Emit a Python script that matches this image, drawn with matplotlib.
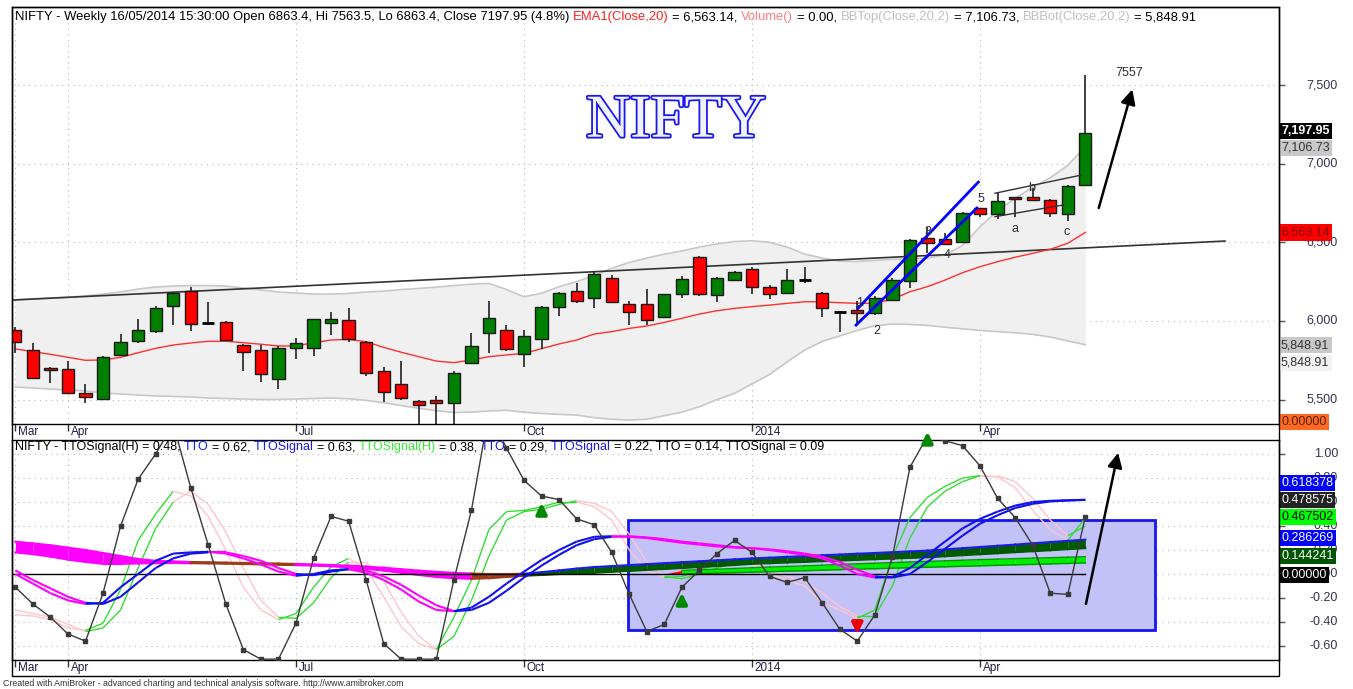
import numpy as np
import matplotlib
matplotlib.use('Agg')
import matplotlib.pyplot as plt
import matplotlib.patheffects as pe
from matplotlib.patches import Rectangle
from matplotlib.collections import LineCollection

plt.rcParams['font.family'] = ['Liberation Sans', 'DejaVu Sans']

# ---- data (weekly bars, 15/03/2013 .. 16/05/2014) ----
opens = [5941, 5813, 5699, 5693, 5544, 5506, 5784, 5871, 5936, 6095,
         6192, 5987, 5993, 5845, 5813, 5633, 5826, 5826, 5985, 6006,
         5866, 5680, 5599, 5491, 5498, 5477, 5731, 5925, 5943, 5790,
         5885, 6087, 6192, 6144, 6273, 6108, 6108, 6027, 6169, 6409,
         6163, 6260, 6328, 6214, 6180, 6258, 6180, 6060, 6070, 6053,
         6133, 6256, 6525, 6521, 6500, 6716, 6680, 6786, 6786, 6769,
         6678, 6863.4]
highs = [5960, 5858, 5706, 5747, 5599, 5779, 5917, 6011, 6095, 6187,
         6218, 6122, 6002, 5854, 5847, 5841, 5894, 6015, 6057, 6080,
         5875, 5707, 5747, 5495, 5523, 5682, 5922, 6129, 5974, 5943,
         6095, 6187, 6243, 6320, 6292, 6129, 6201, 6172, 6288, 6415,
         6280, 6315, 6341, 6229, 6328, 6341, 6185, 6062, 6127, 6159,
         6271, 6521, 6599, 6561, 6690, 6720, 6812, 6790, 6843, 6775,
         6863, 7563.5]
lows = [5794, 5629, 5604, 5536, 5477, 5500, 5780, 5862, 5922, 5974,
        5938, 5974, 5873, 5684, 5614, 5569, 5756, 5777, 5911, 5868,
        5650, 5487, 5498, 5250, 5280, 5300, 5725, 5798, 5811, 5705,
        5824, 6032, 6112, 6080, 6116, 5972, 5972, 6022, 6146, 6161,
        6122, 6255, 6171, 6138, 6175, 6239, 6023, 5932, 5974, 6038,
        6125, 6211, 6434, 6480, 6495, 6659, 6646, 6663, 6765, 6659,
        6637, 6863.4]
closes = [5866, 5635, 5687, 5544, 5519, 5773, 5868, 5941, 6080, 6180,
          5981, 5985, 5879, 5801, 5665, 5826, 5858, 6012, 6012, 5885,
          5671, 5550, 5512, 5464, 5477, 5667, 5841, 6021, 5820, 5906,
          6087, 6176, 6127, 6297, 6122, 6057, 6006, 6169, 6267, 6169,
          6275, 6309, 6214, 6169, 6260, 6262, 6080, 6058, 6049, 6148,
          6260, 6515, 6494, 6487, 6684, 6680, 6763, 6773, 6769, 6684,
          6858, 7197.95]
ema20 = [5822, 5805, 5788, 5769, 5750, 5752, 5769, 5798, 5826, 5847,
         5860, 5871, 5871, 5862, 5852, 5841, 5841, 5862, 5879, 5883,
         5868, 5832, 5801, 5773, 5745, 5735, 5752, 5773, 5784, 5794,
         5824, 5854, 5879, 5917, 5932, 5953, 5968, 5991, 6017, 6044,
         6065, 6080, 6091, 6101, 6112, 6122, 6122, 6116, 6112, 6112,
         6138, 6186, 6218, 6260, 6307, 6345, 6377, 6405, 6430, 6456,
         6494, 6563.14]
bb_top = [6133, 6140, 6146, 6152, 6159, 6171, 6184, 6203, 6216, 6222,
          6225, 6225, 6222, 6210, 6197, 6184, 6178, 6171, 6171, 6175,
          6184, 6190, 6200, 6207, 6215, 6225, 6234, 6239, 6200, 6154,
          6176, 6218, 6250, 6290, 6335, 6372, 6400, 6425, 6445, 6470,
          6490, 6505, 6510, 6500, 6470, 6425, 6400, 6380, 6378, 6385,
          6392, 6395, 6400, 6420, 6480, 6600, 6700, 6780, 6850, 6910,
          6990, 7106.73]
bb_bot = [5580, 5574, 5567, 5561, 5555, 5542, 5536, 5529, 5523, 5520,
          5517, 5510, 5507, 5504, 5501, 5501, 5504, 5507, 5510, 5506,
          5495, 5480, 5462, 5445, 5430, 5418, 5420, 5428, 5432, 5420,
          5412, 5406, 5402, 5385, 5375, 5370, 5375, 5398, 5420, 5455,
          5500, 5540, 5600, 5660, 5740, 5815, 5870, 5905, 5940, 5970,
          5980, 5978, 5972, 5960, 5950, 5940, 5932, 5925, 5915, 5898,
          5873, 5848.91]

month_bars = [0, 3, 16, 29, 42, 55]
month_names = ['Mar', 'Apr', 'Jul', 'Oct', '2014', 'Apr']

# hand drawn annotations (bar index, price)
trend_line = [(-0.19, 6133), (68.96, 6508)]
channel_lo = [(47.93, 5974), (54.82, 6718)]
channel_hi = [(48.05, 6082), (54.9, 6883)]
flag_hi = [(55.85, 6812), (60.79, 6928)]
flag_lo = [(55.85, 6663), (59.73, 6737)]
wave_labels = ['1', '2', '3', '4', '5', 'a', 'b', 'c', '7557']
wave_pos = [(48.1, 6114), (49.1, 5936), (52.03, 6566), (53.1, 6419), (55.05, 6775),
            (56.99, 6585), (57.96, 6845), (59.95, 6566), (63.5, 7576)]
target_arrow = [(61.72, 6701), (63.72, 7489)]

# lower pane: TTO indicator family
tto = [-0.11, -0.25, -0.36, -0.50, -0.56, -0.16, 0.40, 0.79, 1.00, 1.25,
       0.72, 0.24, -0.25, -0.63, -0.71, -0.71, -0.41, 0.13, 0.48, 0.44,
       -0.05, -0.58, -0.71, -0.71, -0.71, -0.05, 0.53, 1.35, 1.05, 0.78,
       0.65, 0.62, 0.46, 0.41, 0.18, -0.17, -0.48, -0.42, -0.11, 0.03,
       0.17, 0.28, 0.18, -0.02, -0.07, -0.03, -0.24, -0.46, -0.56, -0.34,
       0.14, 0.89, 1.15, 1.11, 1.07, 0.90, 0.63, 0.47, 0.24, -0.16,
       -0.17, 0.478575]
sig_h = [-0.34, -0.35, -0.38, -0.45, -0.47, -0.41, -0.13, 0.28, 0.50, 0.69,
         0.65, 0.48, 0.20, -0.11, -0.30, -0.38, -0.33, -0.11, 0.06, 0.13,
         0.04, -0.19, -0.44, -0.58, -0.63, -0.36, -0.05, 0.37, 0.52, 0.53,
         0.56, 0.60, 0.60, 0.56, 0.45, 0.20, 0.03, -0.03, -0.02, 0.03,
         0.08, 0.10, 0.08, 0.00, -0.05, -0.10, -0.24, -0.30, -0.37, -0.30,
         0.14, 0.47, 0.64, 0.73, 0.80, 0.82, 0.81, 0.72, 0.53, 0.37,
         0.28, 0.467502]
sig_h2 = [-0.30, -0.33, -0.36, -0.42, -0.48, -0.45, -0.30, 0.05, 0.38, 0.60,
          0.69, 0.58, 0.35, 0.05, -0.22, -0.36, -0.37, -0.24, -0.03, 0.10,
          0.10, -0.06, -0.32, -0.52, -0.63, -0.52, -0.22, 0.15, 0.45, 0.52,
          0.54, 0.58, 0.61, 0.59, 0.52, 0.33, 0.10, -0.02, -0.04, 0.00,
          0.05, 0.09, 0.10, 0.04, -0.02, -0.06, -0.16, -0.27, -0.35, -0.35,
          -0.10, 0.30, 0.56, 0.69, 0.77, 0.82, 0.82, 0.77, 0.63, 0.45,
          0.32, 0.40]
tto_sig = [0.00, -0.08, -0.16, -0.22, -0.25, -0.24, -0.11, 0.00, 0.11, 0.17,
           0.18, 0.185, 0.17, 0.13, 0.08, 0.02, -0.015, 0.00, 0.03, 0.04,
           0.01, -0.05, -0.13, -0.23, -0.30, -0.31, -0.28, -0.19, -0.08, 0.02,
           0.117, 0.20, 0.27, 0.31, 0.315, 0.31, 0.30, 0.28, 0.26, 0.245,
           0.23, 0.22, 0.214, 0.20, 0.18, 0.16, 0.13, 0.07, 0.00, -0.03,
           -0.025, 0.05, 0.16, 0.27, 0.38, 0.46, 0.52, 0.57, 0.60, 0.61,
           0.615, 0.618378]
tto_sig2 = [0.03, -0.05, -0.12, -0.19, -0.24, -0.25, -0.19, -0.07, 0.05, 0.13,
            0.17, 0.18, 0.18, 0.15, 0.11, 0.05, 0.00, -0.01, 0.02, 0.04,
            0.03, -0.02, -0.09, -0.18, -0.26, -0.31, -0.30, -0.24, -0.14, -0.03,
            0.07, 0.16, 0.24, 0.29, 0.31, 0.315, 0.305, 0.29, 0.27, 0.255,
            0.24, 0.225, 0.215, 0.205, 0.19, 0.17, 0.145, 0.10, 0.035, -0.02,
            -0.03, 0.00, 0.10, 0.21, 0.32, 0.42, 0.49, 0.55, 0.585, 0.605,
            0.612, 0.618]
band_top = [0.27, 0.255, 0.24, 0.22, 0.20, 0.175, 0.15, 0.125, 0.11, 0.105,
            0.10, 0.098, 0.095, 0.092, 0.09, 0.087, 0.084, 0.08, 0.075, 0.07,
            0.062, 0.052, 0.04, 0.028, 0.018, 0.01, 0.004, 0.0, 0.0, 0.002,
            0.015, 0.03, 0.045, 0.058, 0.066, 0.074, 0.082, 0.09, 0.098, 0.106,
            0.114, 0.122, 0.130, 0.136, 0.143, 0.149, 0.156, 0.162, 0.169, 0.175,
            0.182, 0.188, 0.195, 0.205, 0.215, 0.225, 0.235, 0.245, 0.256, 0.266,
            0.276, 0.286269]
band_bot = [0.18, 0.165, 0.145, 0.12, 0.10, 0.085, 0.085, 0.088, 0.09, 0.092,
            0.09, 0.088, 0.086, 0.083, 0.08, 0.077, 0.074, 0.07, 0.064, 0.056,
            0.044, 0.028, 0.01, -0.008, -0.025, -0.035, -0.04, -0.035, -0.025, -0.015,
            -0.008, 0.0, 0.006, 0.01, 0.018, 0.026, 0.034, 0.042, 0.05, 0.058,
            0.066, 0.075, 0.085, 0.09, 0.096, 0.101, 0.107, 0.112, 0.118, 0.123,
            0.129, 0.134, 0.14, 0.148, 0.157, 0.165, 0.173, 0.182, 0.19, 0.198,
            0.207, 0.215]
nan = np.nan
lime_top = [nan] * 37 + [0.0, 0.03, 0.035, 0.04, 0.046, 0.052, 0.058, 0.063, 0.068, 0.073,
                         0.08, 0.085, 0.09, 0.095, 0.10, 0.105, 0.11, 0.115, 0.12, 0.124,
                         0.128, 0.132, 0.136, 0.14, 0.144241]
lime_bot = [nan] * 37 + [0.0, 0.0, 0.003, 0.007, 0.011, 0.015, 0.019, 0.023, 0.027, 0.031,
                         0.036, 0.04, 0.044, 0.048, 0.052, 0.056, 0.06, 0.064, 0.068, 0.072,
                         0.076, 0.08, 0.084, 0.088, 0.092]
box_zone = [(34.93, -0.467), (64.97, 0.45)]
up_arrows = [(30, 0.49, 0.617), (38, -0.275, -0.133), (52, 1.06, 1.21)]
down_arrows = [(48, -0.383, -0.525)]
tto_arrow = [(61.0, -0.272), (62.9, 1.033)]

W, H = 1353, 689
fig = plt.figure(figsize=(W / 100, H / 100), dpi=100)
renderer = fig.canvas.get_renderer()

ax1 = fig.add_axes([12 / W, 1 - 424 / H, 1267 / W, 417 / H])
ax2 = fig.add_axes([12 / W, 1 - 660 / H, 1267 / W, 220 / H])
x = np.arange(len(closes))
xlim = (-0.19, 72.04)

grid_kw = dict(color='#b8b8b8', linestyle=(0, (1, 4)), linewidth=0.8)
for ax in (ax1, ax2):
    ax.set_xlim(*xlim)
    ax.set_xticks(month_bars)
    ax.tick_params(axis='x', direction='out', length=5, width=1, color='#333333',
                   labelbottom=False)
    ax.yaxis.tick_right()
    ax.tick_params(axis='y', direction='out', length=4, width=1, color='#555555',
                   labelright=False)
    ax.grid(True, **grid_kw)
    ax.set_axisbelow(True)
    for s in ax.spines.values():
        s.set_color('black')
        s.set_linewidth(1)
    for b, name in zip(month_bars, month_names):
        ax.annotate(name, xy=(b, 0), xycoords=('data', 'axes fraction'),
                    xytext=(2, -1.5), textcoords='offset points', ha='left', va='top',
                    fontsize=8.5, color='#202040', annotation_clip=False)

# ---------------- price pane ----------------
ax1.set_ylim(5345, 7996)
ax1.set_yticks([5500, 6000, 6500, 7000, 7500])
ax1.fill_between(x, bb_bot, bb_top, color='#f0f0f0', lw=0, zorder=1)
ax1.plot(x, bb_top, color='#c8c8c8', lw=1.2, zorder=1.5)
ax1.plot(x, bb_bot, color='#c8c8c8', lw=1.2, zorder=1.5)
ax1.plot(*zip(*trend_line), color='#333333', lw=1.2, zorder=2)
ax1.plot(x, ema20, color='#ff3030', lw=1, zorder=2)

o = np.array(opens, float)
c = np.array(closes, float)
doji = np.abs(c - o) < 5
ax1.vlines(x, lows, highs, color='#222222', lw=1.2, zorder=2.5)
body_col = ['#008000' if cc >= oo else '#ff0000' for oo, cc in zip(o, c)]
nd = ~doji
ax1.bar(x[nd], np.abs(c - o)[nd], bottom=np.minimum(o, c)[nd], width=0.7,
        color=np.array(body_col)[nd], edgecolor='#1a1a1a', lw=1, zorder=3)
ax1.hlines(c[doji], x[doji] - 0.35, x[doji] + 0.35, color='black', lw=2, zorder=3)

ax1.plot(*zip(*channel_lo), color='#0000ff', lw=2, zorder=4)
ax1.plot(*zip(*channel_hi), color='#0000ff', lw=2, zorder=4)
ax1.plot(*zip(*flag_hi), color='#333333', lw=1, zorder=4)
ax1.plot(*zip(*flag_lo), color='#333333', lw=1, zorder=4)
for lab, (bx, py) in zip(wave_labels, wave_pos):
    ax1.text(bx, py, lab, ha='center', va='center', fontsize=9, color='#333333', zorder=5)
ax1.annotate('', xy=target_arrow[1], xytext=target_arrow[0],
             arrowprops=dict(arrowstyle='-|>', color='black', lw=1.8, mutation_scale=22),
             zorder=5)

fig.text(676 / W, 1 - 122 / H, 'NIFTY', ha='center', va='center', fontsize=44,
         family='Liberation Serif', color='#f2f2ff',
         path_effects=[pe.withStroke(linewidth=2.6, foreground='#1a1aee')])

ytr1 = ax1.get_yaxis_transform()
lab_x = (1338 - 12) / 1267
for v in [5500, 6000, 6500, 7000, 7500]:
    ax1.text(lab_x, v, f'{v:,}', transform=ytr1, ha='right', va='center', fontsize=9,
             color='#33334d', clip_on=False)

box_x = (1281 - 12) / 1267


def value_box(ax, y, txt, fc, tc, bold=False):
    ax.text(box_x, y, txt, transform=ax.get_yaxis_transform(), ha='left', va='center',
            fontsize=9, color=tc, fontweight='bold' if bold else 'normal', clip_on=False,
            zorder=10, bbox=dict(boxstyle='square,pad=0.18', fc=fc, ec='none'))


value_box(ax1, 7208, '7,197.95', 'black', 'white', True)
value_box(ax1, 7100, '7,106.73', '#c8c8c8', '#333333')
value_box(ax1, 6563, '6,563.14', '#ff0000', '#800000')
value_box(ax1, 5847, '5,848.91', '#c8c8c8', '#333333')
value_box(ax1, 5733, '5,848.91', '#f2f2f2', '#333333')
value_box(ax1, 5358, '0.00000', '#ff6a20', '#552200')

# ---------------- indicator pane ----------------
ax2.set_ylim(-0.717, 1.117)
yt2 = [1.0, 0.8, 0.6, 0.4, 0.2, 0.0, -0.2, -0.4, -0.6]
ax2.set_yticks(yt2)
ytr2 = ax2.get_yaxis_transform()
for v in yt2:
    ax2.text(lab_x, v, f'{v:.2f}', transform=ytr2, ha='right', va='center', fontsize=9,
             color='#33334d', clip_on=False)

(bx0, by0), (bx1, by1) = box_zone
ax2.add_patch(Rectangle((bx0, by0), bx1 - bx0, by1 - by0, fc='#c2c2f8', ec='#1515ee',
                        lw=2, zorder=1))


def colored(ax, ys, key, up, down, lw, z):
    segs, cols = [], []
    for i in range(len(ys) - 1):
        segs.append([(i, ys[i]), (i + 1, ys[i + 1])])
        cols.append(up if key[i + 1] >= key[i] else down)
    ax.add_collection(LineCollection(segs, colors=cols, linewidths=lw, zorder=z))


colored(ax2, sig_h2, sig_h, '#33dd33', '#ffc4cc', 1.0, 2)
colored(ax2, sig_h, sig_h, '#33dd33', '#ffc4cc', 1.0, 2)

# ribbon
for i in range(len(band_top) - 1):
    d = band_top[i + 1] - band_top[i]
    if d < -0.004:
        col, edge = '#ff00ff', '#ff00ff'
    elif d > 0.004:
        col, edge = '#005a00', '#1a1aee'
    else:
        col, edge = '#a03a1a', '#a03a1a'
    ax2.fill_between([i, i + 1], [band_bot[i], band_bot[i + 1]], [band_top[i], band_top[i + 1]],
                     color=col, lw=0, zorder=3)
    ax2.plot([i, i + 1], [band_top[i], band_top[i + 1]], color=edge, lw=1.5, zorder=3.2)
    ax2.plot([i, i + 1], [band_bot[i], band_bot[i + 1]], color=col, lw=1.5, zorder=3.2)

for i in range(len(lime_top) - 1):
    if np.isnan(lime_top[i]) or np.isnan(lime_top[i + 1]):
        continue
    col = '#ff0000' if lime_top[i] == lime_bot[i] else '#00ee00'
    ax2.fill_between([i, i + 1], [lime_bot[i], lime_bot[i + 1]], [lime_top[i], lime_top[i + 1]],
                     color=col, lw=0, zorder=3.3)
    if col != '#ff0000':
        ax2.plot([i, i + 1], [lime_top[i], lime_top[i + 1]], color='#009900', lw=1, zorder=3.4)
        ax2.plot([i, i + 1], [lime_bot[i], lime_bot[i + 1]], color='#009900', lw=1, zorder=3.4)

ax2.plot([xlim[0], len(tto) - 1], [0, 0], color='black', lw=1, zorder=3.5)

colored(ax2, tto_sig2, tto_sig, '#1010ee', '#ff00ff', 1.5, 4)
colored(ax2, tto_sig, tto_sig, '#1010ee', '#ff00ff', 1.5, 4)

ax2.plot(x, tto, color='#3a3a3a', lw=1, marker='s', markersize=2.2, zorder=5)

for bx, y0, y1 in up_arrows + down_arrows:
    col = '#008800' if y1 > y0 else '#ee0000'
    ax2.annotate('', xy=(bx, y1), xytext=(bx, y0), annotation_clip=False,
                 arrowprops=dict(arrowstyle='-|>', color=col, lw=3, mutation_scale=15),
                 zorder=6)
ax2.annotate('', xy=tto_arrow[1], xytext=tto_arrow[0],
             arrowprops=dict(arrowstyle='-|>', color='black', lw=1.8, mutation_scale=22),
             zorder=6)

value_box(ax2, 0.758, '0.618378', '#0000ff', 'white')
value_box(ax2, 0.617, '0.478575', '#222222', 'white')
value_box(ax2, 0.475, '0.467502', '#00ff00', 'black')
value_box(ax2, 0.300, '0.286269', '#0000ff', 'white')
value_box(ax2, 0.150, '0.144241', '#005500', 'white')
value_box(ax2, -0.008, '0.00000', 'black', 'white')

# outer frame
fig.add_artist(Rectangle((12 / W, 1 - 676 / H), 1267 / W, 669 / H, transform=fig.transFigure,
                         fill=False, ec='black', lw=1))


# ---------------- title lines ----------------
def text_width(s, size):
    t = fig.text(0, 0, s, fontsize=size)
    w = t.get_window_extent(renderer=renderer).width
    t.remove()
    return w


def rainbow(x_px, y_px, parts, size):
    # place every coloured piece where it falls inside the whole line
    prefix = ''
    wx = text_width('x', size)
    for s, col in parts:
        lead = len(s) - len(s.lstrip(' '))
        pre = prefix + s[:lead]
        off = text_width(pre + 'x', size) - wx if pre else 0
        fig.text((x_px + off) / W, 1 - y_px / H, s.strip(' '), color=col, fontsize=size,
                 ha='left', va='center')
        prefix += s


rainbow(15, 17, [
    ('NIFTY - Weekly 16/05/2014 15:30:00 Open 6863.4, Hi 7563.5, Lo 6863.4, Close 7197.95 (4.8%) ', 'black'),
    ('EMA1(Close,20)', '#ff2020'), (' = 6,563.14, ', 'black'),
    ('Volume()', '#ff8080'), (' = 0.00, ', 'black'),
    ('BBTop(Close,20,2)', '#c0c0c0'), (' = 7,106.73, ', 'black'),
    ('BBBot(Close,20,2)', '#c0c0c0'), (' = 5,848.91', 'black'),
], 9.4)
rainbow(15, 447, [
    ('NIFTY - TTOSignal(H) = 0.48, ', 'black'),
    ('TTO', '#1a1aee'), (' = 0.62, ', 'black'),
    ('TTOSignal', '#1a1aee'), (' = 0.63, ', 'black'),
    ('TTOSignal(H)', '#33ee33'), (' = 0.38, ', 'black'),
    ('TTO', '#1a1aee'), (' = 0.29, ', 'black'),
    ('TTOSignal', '#1a1aee'), (' = 0.22, TTO = 0.14, TTOSignal = 0.09', 'black'),
], 9.0)

fig.text(3 / W, 1 - 684 / H,
         'Created with AmiBroker - advanced charting and technical analysis software. http://www.amibroker.com',
         fontsize=6.3, color='#333333', ha='left', va='center')

fig.savefig('out.png', dpi=100, facecolor='white')
